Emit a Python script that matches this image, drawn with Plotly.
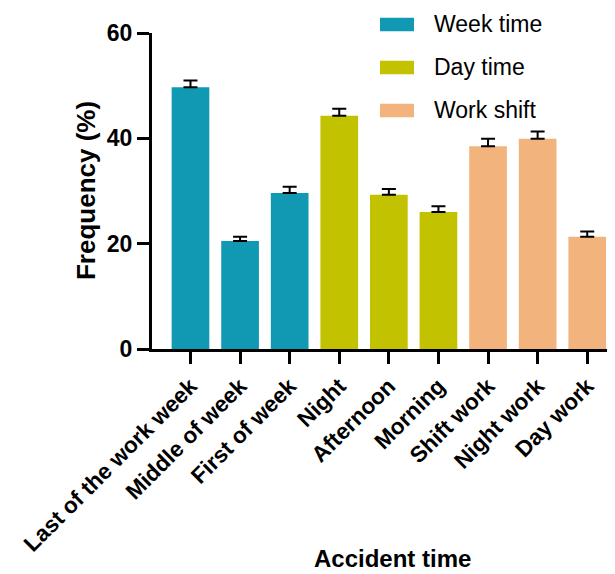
import plotly.graph_objects as go

categories = ["Last of the work week", "Middle of week", "First of week",
              "Night", "Afternoon", "Morning",
              "Shift work", "Night work", "Day work"]
values = [49.7, 20.5, 29.6, 44.3, 29.3, 26.0, 38.5, 39.9, 21.3]
errors = [1.3, 0.8, 1.2, 1.3, 1.1, 1.1, 1.4, 1.4, 1.0]
groups = ["Week time", "Week time", "Week time",
          "Day time", "Day time", "Day time",
          "Work shift", "Work shift", "Work shift"]
group_names = ["Week time", "Day time", "Work shift"]
group_colors = {"Week time": "#1199B4", "Day time": "#C2C200", "Work shift": "#F2B47C"}
y_ticks = [0, 20, 40, 60]

fig = go.Figure()
fig.add_trace(go.Bar(
    x=list(range(len(categories))), y=values,
    marker=dict(color=[group_colors[g] for g in groups], line=dict(width=0)),
    width=0.76,
    error_y=dict(type="data", array=errors, arrayminus=[0]*len(errors), symmetric=False,
                 color="black", thickness=2, width=7),
    showlegend=False,
))

font_b = dict(family="Arial, Liberation Sans, sans-serif", color="black")

fig.update_layout(
    width=607, height=566,
    margin=dict(l=144, r=0, t=25, b=225),
    plot_bgcolor="white", paper_bgcolor="white",
    xaxis=dict(
        range=[-0.776, 8.56],
        tickmode="array", tickvals=list(range(len(categories))), ticktext=[f"<b>{c}</b>" for c in categories],
        tickangle=-45, ticks="outside", ticklen=12, tickwidth=3, tickcolor="black",
        showline=True, linewidth=3, linecolor="black", showgrid=False, zeroline=False,
        tickfont=dict(size=22.5, **font_b),
    ),
    yaxis=dict(
        range=[0, 60], tickvals=y_ticks, ticktext=[f"<b>{t}</b>" for t in y_ticks],
        ticks="outside", ticklen=12, tickwidth=3, tickcolor="black",
        showline=True, linewidth=3, linecolor="black", showgrid=False, zeroline=False,
        tickfont=dict(size=23, **font_b),
    ),
    annotations=[
        dict(text="<b>Frequency (%)</b>", xref="paper", yref="paper", x=-0.1425, y=0.5,
             textangle=-90, showarrow=False, font=dict(size=26, **font_b),
             xanchor="center", yanchor="middle"),
        dict(text="<b>Accident time</b>", xref="paper", yref="paper", x=0.5205, y=-0.662,
             showarrow=False, font=dict(size=24, **font_b), xanchor="center", yanchor="middle",
             borderpad=0),
    ],
)

# custom legend
leg_top = [17.7, 60.7, 103.7]
for i, name in enumerate(group_names):
    top_px = leg_top[i]
    y1 = (349 - top_px) / 316
    y0 = (349 - top_px - 13.5) / 316
    fig.add_shape(type="rect", xref="paper", yref="paper",
                  x0=(380 - 152) / 463, x1=(414 - 152) / 463, y0=y0, y1=y1,
                  fillcolor=group_colors[name], line=dict(width=0))
    fig.add_annotation(text=name, xref="paper", yref="paper",
                       x=(432 - 152) / 463, y=(y0 + y1) / 2, xanchor="left", yanchor="middle",
                       showarrow=False, font=dict(size=23, family="Arial, Liberation Sans, sans-serif", color="black"))

fig.write_html("out.html")
